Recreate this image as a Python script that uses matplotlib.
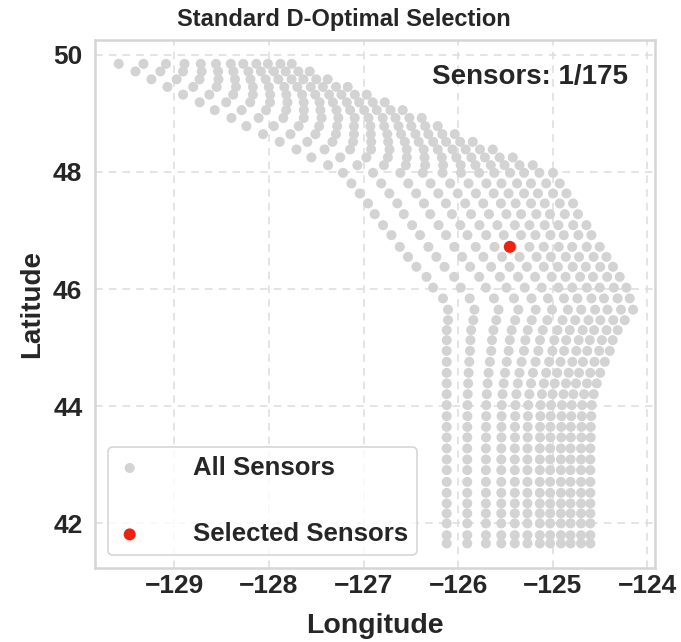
import matplotlib
matplotlib.use("Agg")
import matplotlib.pyplot as plt

plt.rcParams['font.family'] = ['Liberation Sans', 'DejaVu Sans']
plt.rcParams['font.weight'] = 'bold'

# ---------------- data ----------------
# The candidate sensors lie on a curvilinear mesh: 50 east-west rows x 12 columns.
# Each row: its latitude, the longitude of its west-most and east-most sensor.
row_lat = [49.843, 49.713, 49.579, 49.449, 49.317, 49.186, 49.053, 48.920, 48.780, 48.643,
           48.512, 48.382, 48.246, 48.114, 47.983, 47.802, 47.631, 47.461, 47.278, 47.090,
           46.920, 46.720, 46.549, 46.379, 46.208, 46.024, 45.840, 45.648, 45.469, 45.299,
           45.128, 44.945, 44.758, 44.570, 44.389, 44.206, 44.019, 43.831, 43.648, 43.468,
           43.280, 43.092, 42.910, 42.710, 42.522, 42.341, 42.171, 42.000, 41.800, 41.659]
row_lon_west = [-129.589, -129.412, -129.243, -129.074, -128.909, -128.733, -128.574, -128.398,
                -128.239, -128.063, -127.887, -127.710, -127.552, -127.376, -127.218, -127.129,
                -127.041, -126.954, -126.883, -126.795, -126.706, -126.618, -126.531, -126.442,
                -126.336, -126.266, -126.161, -126.108, -126.108, -126.122, -126.122, -126.122,
                -126.122, -126.122, -126.122, -126.122, -126.122, -126.122, -126.122, -126.122,
                -126.122, -126.122, -126.122, -126.122, -126.122, -126.122, -126.122, -126.122,
                -126.122, -126.122]
row_lon_east = [-127.760, -127.570, -127.380, -127.168, -126.967, -126.777, -126.587, -126.386,
                -126.217, -126.037, -125.847, -125.635, -125.424, -125.212, -124.998, -124.927,
                -124.856, -124.786, -124.734, -124.645, -124.592, -124.504, -124.433, -124.364,
                -124.293, -124.222, -124.187, -124.152, -124.240, -124.314, -124.367, -124.398,
                -124.451, -124.499, -124.536, -124.568, -124.589, -124.594, -124.599, -124.599,
                -124.603, -124.603, -124.603, -124.603, -124.603, -124.603, -124.603, -124.603,
                -124.603, -124.603]
# relative position of each of the 12 columns between the west and east ends of a row
col_frac = [0.0, 0.143, 0.273, 0.380, 0.474, 0.562, 0.648, 0.720, 0.795, 0.862, 0.935, 1.0]

selected_lon = [-125.455]
selected_lat = [46.72]

title = "Standard D-Optimal Selection"
count_text = "Sensors: 1/175"
x_ticks = [-129, -128, -127, -126, -125, -124]
y_ticks = [42, 44, 46, 48, 50]

# table of all candidate sensor positions
all_lon = [w + f * (e - w) for w, e in zip(row_lon_west, row_lon_east) for f in col_frac]
all_lat = [la for la in row_lat for f in col_frac]

# ---------------- figure ----------------
fig = plt.figure(figsize=(6.81, 6.42), dpi=100)
ax = fig.add_axes([0.1395, 0.1153, 0.8223, 0.8224])

ax.scatter(all_lon, all_lat, s=52, color='#d3d3d3', edgecolors='none',
           label='All Sensors', zorder=2)
ax.scatter(selected_lon, selected_lat, s=75, color='#ee2211', edgecolors='none',
           label='Selected Sensors', zorder=3)

ax.set_xlim(-129.84, -123.92)
ax.set_ylim(41.24, 50.25)
ax.set_xticks(x_ticks)
ax.set_yticks(y_ticks)
ax.set_xticklabels([f"\u2212{abs(t)}" for t in x_ticks])
ax.tick_params(axis='x', length=0, labelsize=19, pad=4, colors='#262626')
ax.tick_params(axis='y', length=0, labelsize=19, pad=9, colors='#262626')
for lbl in ax.get_xticklabels() + ax.get_yticklabels():
    lbl.set_fontweight('bold')

ax.grid(True, linestyle=(0, (5, 4)), color='#dddddd', linewidth=1.1, zorder=0)
ax.set_axisbelow(True)
for sp in ax.spines.values():
    sp.set_color('#d5d5d5')
    sp.set_linewidth(1.8)

fig.text(0.505, 0.970, title, ha='center', va='center', fontsize=17,
         fontweight='bold', color='#262626')
ax.set_xlabel('Longitude', fontsize=20.5, fontweight='bold', color='#262626', labelpad=11)
ax.set_ylabel('Latitude', fontsize=20, fontweight='bold', color='#262626', labelpad=6)

ax.text(0.952, 0.955, count_text, transform=ax.transAxes, ha='right', va='top',
        fontsize=20, fontweight='bold', color='#262626')

leg = ax.legend(loc='lower left', fontsize=18.5, frameon=True, borderpad=0.35,
                labelspacing=1.65, handlelength=1.0, handletextpad=1.95, markerscale=1.0)
leg.get_frame().set_edgecolor('#cccccc')
leg.get_frame().set_linewidth(1.2)
for t in leg.get_texts():
    t.set_color('#262626')
    t.set_fontweight('bold')

fig.savefig('out.png', dpi=100)
